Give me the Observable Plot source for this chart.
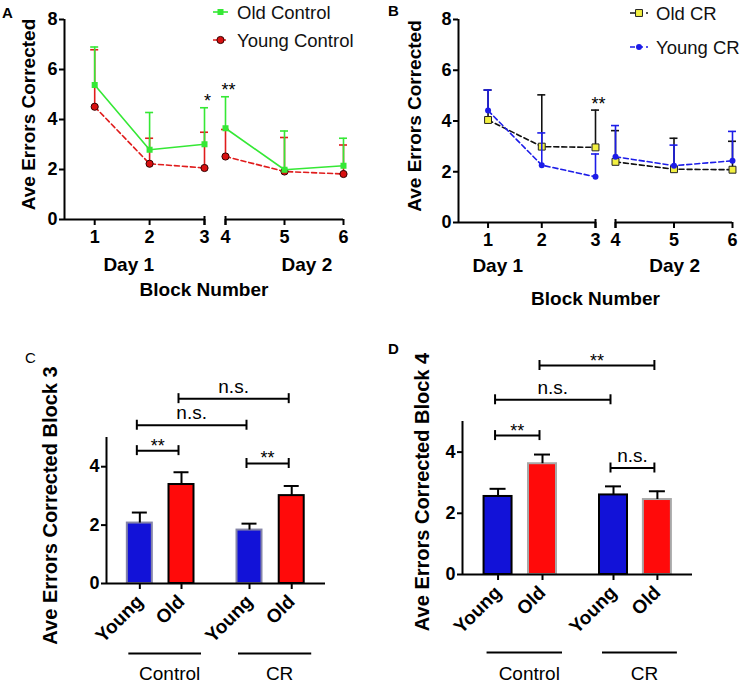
<!DOCTYPE html>
<html><head><meta charset="utf-8">
<script src="https://cdn.jsdelivr.net/npm/d3@7"></script>
<script src="https://cdn.jsdelivr.net/npm/@observablehq/plot@0.6"></script>
<style>
body{margin:0;background:#fff;}
#root{position:relative;width:749px;height:688px;background:#fff;font-family:"Liberation Sans",Arial,Helvetica,sans-serif;}
.letter{position:absolute;font-size:15px;line-height:15px;font-weight:bold;}
</style></head><body><div id="root"></div>
<script>
// ---------- data ----------
const blocks = [1, 2, 3, 4, 5, 6];
const blockDay = ["Day 1", "Day 1", "Day 1", "Day 2", "Day 2", "Day 2"];
const oldControlMean = [5.38, 2.79, 3.01, 3.65, 1.99, 2.15];
const oldControlSem = [1.52, 1.49, 1.46, 1.26, 1.55, 1.10];
const youngControlMean = [4.51, 2.23, 2.06, 2.52, 1.92, 1.82];
const youngControlSem = [2.28, 1.02, 1.43, 1.08, 1.36, 1.16];
const oldCRMean = [4.04, 2.99, 2.96, 2.39, 2.10, 2.08];
const oldCRSem = [1.18, 2.04, 1.47, 1.23, 1.22, 1.12];
const youngCRMean = [4.41, 2.26, 1.80, 2.59, 2.24, 2.43];
const youngCRSem = [0.81, 1.27, 0.90, 1.23, 0.81, 1.16];
const lineYTicks = [0, 2, 4, 6, 8];
const dayLabels = ["Day 1", "Day 2"];
const dayLabelBlockA = [1.62, 5.38];
const dayLabelBlockB = [1.18, 5.01];
const legendA = ["Old Control", "Young Control"];
const legendB = ["Old CR", "Young CR"];
const sigA = {block: [3, 4], y: [4.5, 4.93], label: ["*", "**"]};
const sigB = {block: [3], y: [4.43], label: ["**"]};

const barAges = ["Young", "Old", "Young", "Old"];
const barGroups = ["Control", "Control", "CR", "CR"];
const groupNames = ["Control", "CR"];
const block3Mean = [2.07, 3.39, 1.83, 3.01];
const block3Sem = [0.36, 0.42, 0.22, 0.33];
const block4Mean = [2.55, 3.62, 2.60, 2.45];
const block4Sem = [0.25, 0.30, 0.28, 0.27];
const barYTicks = [0, 2, 4];
const block3Brackets = {from: [0, 2, 0, 1], to: [1, 3, 2, 3], y: [4.55, 4.11, 5.42, 6.33], label: ["**", "**", "n.s.", "n.s."]};
const block4Brackets = {from: [0, 2, 0, 1], to: [1, 3, 2, 3], y: [4.54, 3.48, 5.71, 6.83], label: ["**", "n.s.", "n.s.", "**"]};

// ---------- helpers ----------
const FONT = '"Liberation Sans", Arial, Helvetica, sans-serif';
const root = document.getElementById("root");
function place(el, left, top) {
  el.style.position = "absolute"; el.style.left = left + "px"; el.style.top = top + "px";
  root.appendChild(el);
}
function rowsOf(mean, sem) {
  return blocks.map((b, i) => ({block: b, day: blockDay[i], mean: mean[i], top: mean[i] + sem[i]}));
}
function sigRows(s) { return s.block.map((b, i) => ({block: b, y: s.y[i], label: s.label[i]})); }

const STY = {
  oldControl: {color: "#35e835", symbol: "square", r: 3.4, fill: "#35e835"},
  youngControl: {color: "#e01c1c", dash: "5,3", symbol: "circle", r: 3.6, fill: "#d81010", stroke: "#300", sw: 1},
  oldCR: {color: "#111", dash: "5,3", symbol: "square", r: 3.9, fill: "#f2f040", stroke: "#222", sw: 1},
  youngCR: {color: "#1c1ce8", dash: "5,3", symbol: "circle", r: 3, fill: "#1c1ce8"}
};

function seriesMarks(rows, st) {
  return [
    Plot.line(rows, {x: "block", y: "mean", z: "day", stroke: st.color, strokeWidth: 1.6, strokeDasharray: st.dash}),
    Plot.ruleX(rows, {x: "block", y1: "mean", y2: "top", stroke: st.color, strokeWidth: 1.6}),
    Plot.ruleY(rows, {x1: "block", x2: "block", y: "top", stroke: st.color, strokeWidth: 1.6, insetLeft: -4, insetRight: -4}),
    Plot.dot(rows, {x: "block", y: "mean", symbol: st.symbol, r: st.r, fill: st.fill, stroke: st.stroke, strokeWidth: st.sw})
  ];
}

function linePanel(c) {
  const x0 = 0.45;
  const segments = [{from: x0, to: 3}, {from: 4, to: 6}];
  return Plot.plot({
    width: c.width, height: c.height,
    marginLeft: c.mL, marginRight: c.mR, marginTop: c.mT, marginBottom: c.mB,
    style: {fontFamily: FONT, fontSize: "17px", background: "transparent", overflow: "visible", color: "#000"},
    x: {type: "linear", domain: [x0, 3, 4, 6], range: [c.mL, c.xr[0], c.xr[1], c.width - c.mR], axis: null},
    y: {domain: [0, 8], axis: null},
    marks: [
      Plot.ruleX([x0], {strokeWidth: 2}),
      Plot.ruleY(segments, {x1: "from", x2: "to", y: 0, strokeWidth: 2}),
      Plot.axisY({ticks: lineYTicks, tickFormat: "d", tickSize: 5, tickPadding: 2, fontWeight: "bold", fontSize: 18, strokeWidth: 2, label: null}),
      Plot.axisX({ticks: blocks, tickFormat: "d", tickSize: 6, tickPadding: 5, fontWeight: "bold", fontSize: 18, strokeWidth: 2, label: null}),
      Plot.ruleX([3, 4], {y1: 0, y2: 0, insetTop: 6, insetBottom: 3, strokeWidth: 2}),
      ...c.series.flatMap(s => seriesMarks(s.rows, s.style)),
      Plot.text(c.sig, {x: "block", y: "y", text: "label", lineAnchor: "bottom", dx: 3, fontSize: 18}),
      Plot.text(dayLabels, {x: c.dayPos, frameAnchor: "bottom", lineAnchor: "middle", dy: c.dayDy, fontWeight: "bold", fontSize: 19}),
      Plot.text(["Block Number"], {frameAnchor: "bottom", lineAnchor: "middle", dy: c.titleDy, fontWeight: "bold", fontSize: 19}),
      Plot.text(["Ave Errors Corrected"], {frameAnchor: "left", textAnchor: "middle", rotate: -90, dx: c.ylDx, dy: c.ylDy, fontWeight: "bold", fontSize: 19})
    ]
  });
}

function legend(w, h, items) {
  const svg = d3.create("svg").attr("width", w).attr("height", h).style("font-family", FONT).style("overflow", "visible");
  items.forEach(it => {
    svg.append("line").attr("x1", it.x1).attr("x2", it.x2).attr("y1", it.y).attr("y2", it.y)
      .attr("stroke", it.st.color).attr("stroke-width", 1.6).attr("stroke-dasharray", it.st.dash || null);
    const sym = it.st.symbol === "square" ? d3.symbolSquare : d3.symbolCircle;
    svg.append("path").attr("d", d3.symbol(sym, Math.PI * it.st.r * it.st.r)())
      .attr("transform", `translate(${(it.x1 + it.x2) / 2},${it.y})`)
      .attr("fill", it.st.fill).attr("stroke", it.st.stroke || "none").attr("stroke-width", it.st.sw || 0);
    svg.append("text").attr("x", it.tx).attr("y", it.y).attr("dy", "0.36em").attr("font-size", 18.5).attr("fill", "#111").text(it.label);
  });
  return svg.node();
}

function barPanel(c) {
  const rows = barAges.map((age, i) => ({i, age, group: barGroups[i], mean: c.means[i], top: c.means[i] + c.sems[i]}));
  const groups = groupNames.map(g => {
    const idx = rows.filter(r => r.group === g).map(r => r.i);
    return {g, first: d3.min(idx), last: d3.max(idx), mid: (d3.min(idx) + d3.max(idx)) / 2};
  });
  const xDomain = [-0.8, 1, 2, 3.8];
  const xRange = [c.mL, c.xr[0], c.xr[1], c.width - c.mR];
  const xs = Plot.scale({x: {type: "linear", domain: xDomain, range: xRange}});
  const br = c.brackets.from.map((f, k) => {
    const t = c.brackets.to[k];
    return {from: f, to: t, y: c.brackets.y[k], label: c.brackets.label[k], mid: xs.invert((xs.apply(f) + xs.apply(t)) / 2)};
  });
  const ends = br.flatMap(b => [{x: b.from, y: b.y}, {x: b.to, y: b.y}]);
  const half = c.bw / 2;
  const barStyle = {Young: {fill: "#1212d8", stroke: c.youngStroke}, Old: {fill: "#ff0a0a", stroke: c.oldStroke}};
  return Plot.plot({
    width: c.width, height: c.height,
    marginLeft: c.mL, marginRight: c.mR, marginTop: c.mT, marginBottom: c.mB,
    style: {fontFamily: FONT, fontSize: "17px", background: "transparent", overflow: "visible", color: "#000"},
    x: {type: "linear", domain: xDomain, range: xRange, axis: null},
    y: {domain: [0, 5], axis: null},
    marks: [
      ...["Young", "Old"].map(a => Plot.rect(rows, {filter: d => d.age === a, x1: "i", x2: "i", y1: 0, y2: "mean",
        insetLeft: -half, insetRight: -half, fill: barStyle[a].fill, stroke: barStyle[a].stroke, strokeWidth: 2})),
      Plot.ruleX(rows, {x: "i", y1: "mean", y2: "top", strokeWidth: 2}),
      Plot.ruleY(rows, {x1: "i", x2: "i", y: "top", strokeWidth: 2, insetLeft: -c.cap, insetRight: -c.cap}),
      Plot.ruleX([xDomain[0]], {y1: 0, y2: 5, strokeWidth: 2}),
      Plot.ruleY([0], {strokeWidth: 2}),
      Plot.axisY({ticks: barYTicks, tickFormat: "d", tickSize: 5, tickPadding: 2, fontWeight: "bold", fontSize: 18, strokeWidth: 2, label: null}),
      Plot.ruleX(rows, {x: "i", y1: 0, y2: 0, insetTop: 6, insetBottom: 0, strokeWidth: 2}),
      Plot.text(rows, {x: "i", y: 0, text: "age", rotate: -45, textAnchor: "end", dx: c.lblDx, dy: c.lblDy, fontWeight: "bold", fontSize: 19}),
      Plot.ruleY(groups, {x1: "first", x2: "last", y: 0, dy: c.ulDy, dx: 4, insetLeft: -15, insetRight: -16, strokeWidth: 2}),
      Plot.text(groups, {x: "mid", y: 0, text: "g", dy: c.glDy, dx: 9, fontSize: 19}),
      Plot.ruleY(br, {x1: "from", x2: "to", y: "y", dx: -3, strokeWidth: 2}),
      Plot.ruleX(ends, {x: "x", y1: "y", y2: "y", dx: -3, insetTop: 5, insetBottom: 5, strokeWidth: 2}),
      Plot.text(br, {filter: d => d.label === "n.s.", x: "mid", y: "y", text: "label", lineAnchor: "bottom", dy: -6, dx: -3, fontSize: 19}),
      Plot.text(br, {filter: d => d.label !== "n.s.", x: "mid", y: "y", text: "label", lineAnchor: "bottom", dy: 1, dx: -3, fontSize: 18}),
      Plot.text([c.ylabel], {frameAnchor: "left", textAnchor: "middle", rotate: -90, dx: c.ylDx, dy: c.ylDy, fontWeight: "bold", fontSize: 20})
    ]
  });
}

// ---------- panels ----------
const pA = linePanel({
  width: 375, height: 300, mL: 64, mR: 32, mT: 19, mB: 81, xr: [204, 225],
  series: [
    {rows: rowsOf(youngControlMean, youngControlSem), style: STY.youngControl},
    {rows: rowsOf(oldControlMean, oldControlSem), style: STY.oldControl}
  ],
  sig: sigRows(sigA), dayPos: dayLabelBlockA, dayDy: 45, titleDy: 70, ylDx: -36, ylDy: -5
});
place(pA, 0, 0);

const pB = linePanel({
  width: 374, height: 310, mL: 83, mR: 17, mT: 19, mB: 88, xr: [220, 240],
  series: [
    {rows: rowsOf(oldCRMean, oldCRSem), style: STY.oldCR},
    {rows: rowsOf(youngCRMean, youngCRSem), style: STY.youngCR}
  ],
  sig: sigRows(sigB), dayPos: dayLabelBlockB, dayDy: 43, titleDy: 76, ylDx: -44, ylDy: -5
});
place(pB, 375, 0);

const pC = barPanel({
  width: 375, height: 358, mL: 106, mR: 50, mT: 107, mB: 105, xr: [181, 249],
  means: block3Mean, sems: block3Sem, brackets: block3Brackets, bw: 25, cap: 7.5,
  youngStroke: "#8585a8", oldStroke: "#000", lblDx: 0, lblDy: 15, ulDy: 70, glDy: 90,
  ylabel: "Ave Errors Corrected Block 3", ylDx: -56, ylDy: -5
});
place(pC, 0, 330);

const pD = barPanel({
  width: 374, height: 358, mL: 87, mR: 57, mT: 91, mB: 114, xr: [167, 238],
  means: block4Mean, sems: block4Sem, brackets: block4Brackets, bw: 28, cap: 8,
  youngStroke: "#000", oldStroke: "#a8a8a8", lblDx: 0, lblDy: 15, ulDy: 78, glDy: 99,
  ylabel: "Ave Errors Corrected Block 4", ylDx: -40, ylDy: -6
});
place(pD, 375, 330);

// legends
place(legend(170, 55, [
  {x1: 8, x2: 23, y: 12, tx: 32, st: STY.oldControl, label: legendA[0]},
  {x1: 8, x2: 23, y: 40, tx: 32, st: STY.youngControl, label: legendA[1]}
]), 205, 0);
place(legend(127, 60, [
  {x1: 8, x2: 26, y: 13, tx: 34, st: STY.oldCR, label: legendB[0]},
  {x1: 8, x2: 26, y: 47, tx: 34, st: STY.youngCR, label: legendB[1]}
]), 622, 0);

// panel letters
[["A", 2, 5, "bold"], ["B", 388, 3, "bold"], ["C", 25, 350, "normal"], ["D", 388, 341, "bold"]].forEach(([t, l, tp, w]) => {
  const d = document.createElement("div"); d.className = "letter"; d.textContent = t; d.style.fontWeight = w;
  place(d, l, tp);
});
</script></body></html>
